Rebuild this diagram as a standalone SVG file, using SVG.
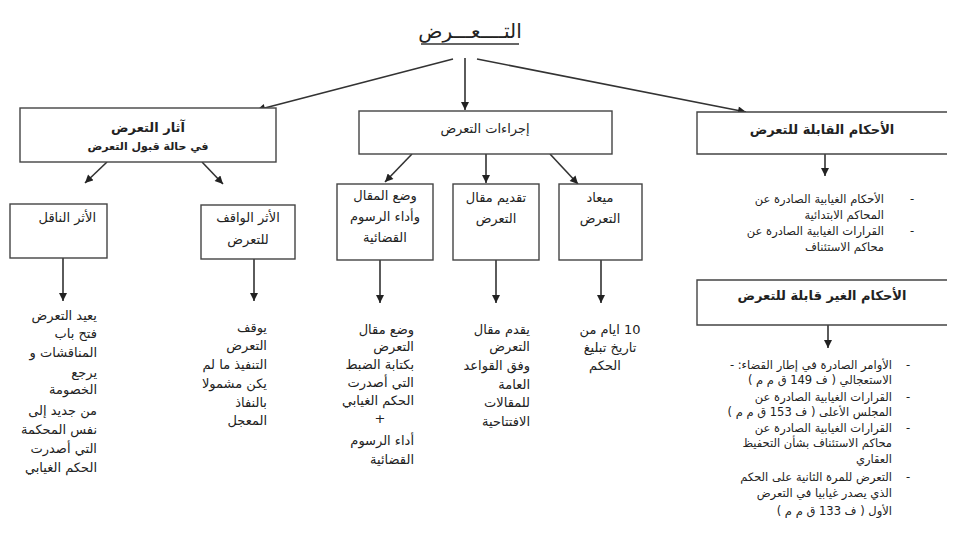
<svg xmlns="http://www.w3.org/2000/svg" width="960" height="550" viewBox="0 0 960 550">
<defs>
<marker id="ah" viewBox="0 0 10 10" refX="10" refY="5" markerWidth="9" markerHeight="8" markerUnits="userSpaceOnUse" orient="auto">
<path d="M0,0 L10,5 L0,10 Z" fill="#222"/>
</marker>
<style>
.bx{fill:#fff;stroke:#444;stroke-width:1.4}
.ln{stroke:#333;stroke-width:1.6;fill:none}
.ar{stroke:#333;stroke-width:1.6;fill:none;marker-end:url(#ah)}
text{font-family:"DejaVu Sans",sans-serif;fill:#222}
.t{font-size:13px;direction:rtl}
.b{font-size:13px;font-weight:bold;direction:rtl}
.s{font-size:11.5px;direction:rtl}
.c{text-anchor:middle}
.r{text-anchor:start}
</style>
</defs>
<rect width="960" height="550" fill="#fff"/>

<g id="title">
<text x="470" y="38" class="c" style="font-size:20px;direction:rtl">التــــعـــرض</text>
<line x1="421" y1="44" x2="519" y2="44" stroke="#333" stroke-width="1.6"/>
</g>

<g id="connectors">
<line class="ar" x1="453" y1="59" x2="257" y2="110"/>
<line class="ar" x1="465" y1="58" x2="465" y2="110"/>
<line class="ar" x1="477" y1="59" x2="746" y2="112"/>
<line class="ar" x1="107" y1="162" x2="85" y2="183"/>
<line class="ar" x1="202" y1="162" x2="223" y2="184"/>
<line class="ar" x1="412" y1="154" x2="385" y2="182"/>
<line class="ar" x1="486" y1="154" x2="486" y2="183"/>
<line class="ar" x1="550" y1="154" x2="578" y2="184"/>
<line class="ar" x1="825" y1="154" x2="825" y2="176"/>
<line class="ar" x1="63" y1="258" x2="63" y2="301"/>
<line class="ar" x1="254" y1="259" x2="254" y2="301"/>
<line class="ar" x1="380" y1="260" x2="380" y2="303"/>
<line class="ar" x1="496" y1="260" x2="496" y2="303"/>
<line class="ar" x1="601" y1="260" x2="601" y2="303"/>
<line class="ar" x1="828" y1="325" x2="828" y2="348"/>
</g>

<g id="athar">
<rect class="bx" x="20" y="108" width="256" height="54"/>
<text x="148" y="132" class="b c">آثار التعرض</text>
<text x="148" y="150" class="b c" style="font-size:11px">في حالة قبول التعرض</text>
</g>

<g id="ijraat">
<rect class="bx" x="359" y="111" width="253" height="43"/>
<text x="485" y="133" class="t c">إجراءات التعرض</text>
</g>

<g id="qabila">
<path class="bx" d="M947,112 H697 V154 H947"/>
<text x="822" y="134" class="b c">الأحكام القابلة للتعرض</text>
</g>

<g id="naqil">
<rect class="bx" x="10" y="204" width="97" height="54"/>
<text x="96" y="222" class="t r">الأثر الناقل</text>
</g>

<g id="waqif">
<rect class="bx" x="201" y="205" width="94" height="54"/>
<text x="248" y="222" class="t c">الأثر الواقف</text>
<text x="248" y="244" class="t c">للتعرض</text>
</g>

<g id="wad">
<rect class="bx" x="337" y="184" width="96" height="76"/>
<text x="385" y="200" class="t c">وضع المقال</text>
<text x="385" y="221" class="t c">وأداء الرسوم</text>
<text x="385" y="242" class="t c">القضائية</text>
</g>

<g id="taqdim">
<rect class="bx" x="453" y="184" width="86" height="76"/>
<text x="496" y="202" class="t c">تقديم مقال</text>
<text x="496" y="223" class="t c">التعرض</text>
</g>

<g id="miad">
<rect class="bx" x="559" y="184" width="83" height="76"/>
<text x="600" y="202" class="t c">ميعاد</text>
<text x="600" y="223" class="t c">التعرض</text>
</g>

<g id="ghayr">
<path class="bx" d="M947,280 H697 V325 H947"/>
<text x="822" y="300" class="b c">الأحكام الغير قابلة للتعرض</text>
</g>

<g id="txt-naqil">
<text x="97" y="320" class="t r">يعيد التعرض</text>
<text x="97" y="338" class="t r">فتح باب</text>
<text x="97" y="357" class="t r">المناقشات و</text>
<text x="97" y="377" class="t r">يرجع</text>
<text x="97" y="394" class="t r">الخصومة</text>
<text x="97" y="415" class="t r">من جديد إلى</text>
<text x="97" y="434" class="t r">نفس المحكمة</text>
<text x="97" y="453" class="t r">التي أصدرت</text>
<text x="97" y="472" class="t r">الحكم الغيابي</text>
</g>

<g id="txt-waqif">
<text x="267" y="332" class="t r">يوقف</text>
<text x="267" y="350" class="t r">التعرض</text>
<text x="267" y="369" class="t r">التنفيذ ما لم</text>
<text x="267" y="388" class="t r">يكن مشمولا</text>
<text x="267" y="407" class="t r">بالنفاذ</text>
<text x="267" y="425" class="t r">المعجل</text>
</g>

<g id="txt-wad">
<text x="414" y="334" class="t r">وضع مقال</text>
<text x="414" y="351" class="t r">التعرض</text>
<text x="414" y="369" class="t r">بكتابة الضبط</text>
<text x="414" y="387" class="t r">التي أصدرت</text>
<text x="414" y="405" class="t r">الحكم الغيابي</text>
<text x="380" y="423" class="t c">+</text>
<text x="414" y="445" class="t r">أداء الرسوم</text>
<text x="414" y="464" class="t r">القضائية</text>
</g>

<g id="txt-taqdim">
<text x="530" y="334" class="t r">يقدم مقال</text>
<text x="530" y="351" class="t r">التعرض</text>
<text x="530" y="370" class="t r">وفق القواعد</text>
<text x="530" y="389" class="t r">العامة</text>
<text x="530" y="407" class="t r">للمقالات</text>
<text x="530" y="426" class="t r">الافتتاحية</text>
</g>

<g id="txt-miad">
<text x="610" y="334" class="t c">10 ايام من</text>
<text x="610" y="352" class="t c">تاريخ تبليغ</text>
<text x="605" y="370" class="t c">الحكم</text>
</g>

<g id="txt-qabila">
<text x="912" y="203" class="s c">-</text>
<text x="884" y="203" class="s r">الأحكام الغيابية الصادرة عن</text>
<text x="884" y="219" class="s r">المحاكم الابتدائية</text>
<text x="912" y="235" class="s c">-</text>
<text x="884" y="235" class="s r">القرارات الغيابية الصادرة عن</text>
<text x="884" y="251" class="s r">محاكم الاستئناف</text>
</g>

<g id="txt-ghayr">
<text x="908" y="369" class="s c">-</text>
<text x="892" y="369" class="s r">الأوامر الصادرة في إطار القضاء: -</text>
<text x="892" y="384" class="s r">الاستعجالي ( ف 149 ق م م )</text>
<text x="908" y="401" class="s c">-</text>
<text x="892" y="401" class="s r">القرارات الغيابية الصادرة عن</text>
<text x="892" y="416" class="s r">المجلس الأعلى ( ف 153 ق م م )</text>
<text x="908" y="432" class="s c">-</text>
<text x="892" y="432" class="s r">القرارات الغيابية الصادرة عن</text>
<text x="892" y="447" class="s r">محاكم الاستئناف بشأن التحفيظ</text>
<text x="892" y="463" class="s r">العقاري</text>
<text x="908" y="481" class="s c">-</text>
<text x="892" y="481" class="s r">التعرض للمرة الثانية على الحكم</text>
<text x="892" y="497" class="s r">الذي يصدر غيابيا في التعرض</text>
<text x="892" y="515" class="s r">الأول ( ف 133 ق م م )</text>
</g>
</svg>
